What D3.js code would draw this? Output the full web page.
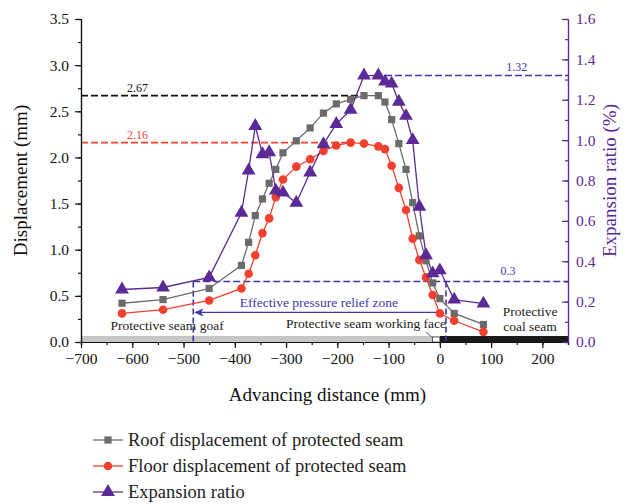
<!DOCTYPE html>
<html>
<head>
<meta charset="utf-8">
<script src="https://cdn.jsdelivr.net/npm/d3@7"></script>
<style>
  body { margin: 0; background: #fff; }
  svg text { font-family: "Liberation Serif", "DejaVu Serif", serif; }
</style>
</head>
<body>
<div class="chart"></div>
<script>
// advancing distance (mm) of each measuring point
let distance = [-620, -540, -450, -387, -373, -360, -346, -333, -320, -306, -280, -253, -227, -202,
                -174, -148, -120, -107, -94, -80, -66, -53, -40, -27, -14, 0, 28, 85];

// displacement (mm)
let roof = [0.42, 0.46, 0.58, 0.83, 1.08, 1.37, 1.55, 1.72, 1.87, 2.05, 2.18, 2.32, 2.48, 2.58,
            2.63, 2.67, 2.67, 2.60, 2.41, 2.15, 1.87, 1.51, 1.15, 0.88, 0.64, 0.47, 0.31, 0.19];
let floor = [0.31, 0.35, 0.45, 0.58, 0.74, 0.94, 1.18, 1.34, 1.57, 1.76, 1.90, 1.98, 2.07, 2.13,
             2.16, 2.15, 2.12, 2.09, 1.91, 1.67, 1.43, 1.12, 0.89, 0.70, 0.51, 0.31, 0.23, 0.11];

// expansion ratio (%)
let expansion = [0.26, 0.27, 0.32, 0.64, 0.85, 1.07, 0.93, 0.94, 0.75, 0.74, 0.69, 0.84, 0.98, 1.08,
                 1.15, 1.32, 1.32, 1.29, 1.28, 1.19, 1.12, 1.00, 0.67, 0.43, 0.34, 0.355, 0.21, 0.19];

// axis ticks
let xTicks = [-700, -600, -500, -400, -300, -200, -100, 0, 100, 200];
let yLeftTicks = [0, 0.5, 1.0, 1.5, 2.0, 2.5, 3.0, 3.5];
let yRightTicks = [0, 0.2, 0.4, 0.6, 0.8, 1.0, 1.2, 1.4, 1.6];

// reference values
let roofMax = 2.67, floorMax = 2.16, expansionMax = 1.32, expansionLimit = 0.3;
let zoneStart = -481, zoneEnd = 12;

let width = 627, height = 504;
let margin = {left: 81, right: 59, top: 19, bottom: 162};

let grey = "#6b6b6b", red = "#f2402f", purple = "#5b2a96", blue = "#3f39a6";

let svg = d3.select(".chart")
    .append("svg")
    .attr("width", width)
    .attr("height", height);

let xScale = d3.scaleLinear()
    .domain([-700, 250])
    .range([margin.left, width - margin.right]);

let yLeft = d3.scaleLinear()
    .domain([0, 3.5])
    .range([height - margin.bottom, margin.top]);

let yRight = d3.scaleLinear()
    .domain([0, 1.6])
    .range([height - margin.bottom, margin.top]);

let x0 = xScale.range()[0], x1 = xScale.range()[1], yBase = yLeft(0);

// coal seam strip at the bottom
svg.append("rect")
    .attr("x", x0).attr("y", yBase - 6)
    .attr("width", xScale(-3) - x0).attr("height", 6)
    .attr("fill", "#c6c6c6");
svg.append("rect")
    .attr("x", xScale(0)).attr("y", yBase - 6)
    .attr("width", x1 - xScale(0)).attr("height", 6)
    .attr("fill", "#1a1a1a");
svg.append("rect")
    .attr("x", xScale(-14)).attr("y", yBase - 5)
    .attr("width", xScale(0) - xScale(-14)).attr("height", 5)
    .attr("fill", "#fff").attr("stroke", "#1a1a1a").attr("stroke-width", 0.6);

// dashed reference lines
let dashed = (xa, xb, y, color) => {
    svg.append("line")
        .attr("x1", xScale(xa)).attr("x2", xScale(xb))
        .attr("y1", y).attr("y2", y)
        .attr("stroke", color).attr("stroke-width", 1.6)
        .attr("stroke-dasharray", "7,3");
};
dashed(-700, -150, yLeft(roofMax), "#111");
dashed(-700, -174, yLeft(floorMax), red);
dashed(-107, 250, yRight(expansionMax), blue);
dashed(zoneStart, 250, yRight(expansionLimit), blue);

[zoneStart, zoneEnd].forEach(v => {
    svg.append("line")
        .attr("x1", xScale(v)).attr("x2", xScale(v))
        .attr("y1", yRight(expansionLimit)).attr("y2", yBase)
        .attr("stroke", blue).attr("stroke-width", 1.6)
        .attr("stroke-dasharray", "6,3");
});

let label = (x, y, txt, color, size) => {
    svg.append("text")
        .attr("x", x).attr("y", y)
        .attr("fill", color)
        .attr("font-size", size || 12)
        .attr("text-anchor", "middle")
        .text(txt);
};
label(xScale(-590), yLeft(roofMax) - 4, "2.67", "#111");
label(xScale(-590), yLeft(floorMax) - 4, "2.16", red);
label(xScale(150), yRight(expansionMax) - 5, "1.32", blue);
label(xScale(133), yRight(expansionLimit) - 6, "0.3", blue);

// effective pressure relief zone arrow
let arrowY = yLeft(0.32);
svg.append("line")
    .attr("x1", xScale(0)).attr("x2", xScale(zoneStart) + 2)
    .attr("y1", arrowY).attr("y2", arrowY)
    .attr("stroke", blue).attr("stroke-width", 1.2);
svg.append("path")
    .attr("d", "M" + (xScale(zoneStart) + 1) + "," + arrowY + "l9,-4l-2,4l2,4z")
    .attr("fill", blue);
label(xScale(-236), arrowY - 5, "Effective pressure relief zone", blue, 13.5);

label(xScale(-532), yLeft(0.13), "Protective seam goaf", "#222", 13.5);
label(xScale(-144), yLeft(0.155), "Protective seam working face", "#222", 13.5);
label(xScale(176), yLeft(0.28), "Protective", "#222", 13.5);
label(xScale(176), yLeft(0.115), "coal seam", "#222", 13.5);
svg.append("path")
    .attr("d", "M" + xScale(-27) + "," + (yBase - 10) + "L" + (xScale(-14) - 1) + "," + (yBase - 5))
    .attr("stroke", "#222").attr("stroke-width", 0.8).attr("fill", "none");

// series
let dispLine = d3.line()
    .x((d, i) => xScale(distance[i]))
    .y(d => yLeft(d));
let expLine = d3.line()
    .x((d, i) => xScale(distance[i]))
    .y(d => yRight(d));

svg.append("path").datum(roof)
    .attr("d", dispLine).attr("fill", "none")
    .attr("stroke", grey).attr("stroke-width", 1.3);
svg.append("path").datum(floor)
    .attr("d", dispLine).attr("fill", "none")
    .attr("stroke", red).attr("stroke-width", 1.3);
svg.append("path").datum(expansion)
    .attr("d", expLine).attr("fill", "none")
    .attr("stroke", purple).attr("stroke-width", 1.3);

let square = d3.symbol().type(d3.symbolSquare).size(52);
let circle = d3.symbol().type(d3.symbolCircle).size(58);
let triangle = d3.symbol().type(d3.symbolTriangle).size(82);

svg.selectAll(".roof-pt").data(roof).enter()
    .append("path").attr("class", "roof-pt")
    .attr("d", square)
    .attr("transform", (d, i) => "translate(" + xScale(distance[i]) + "," + yLeft(d) + ")")
    .attr("fill", grey);
svg.selectAll(".floor-pt").data(floor).enter()
    .append("path").attr("class", "floor-pt")
    .attr("d", circle)
    .attr("transform", (d, i) => "translate(" + xScale(distance[i]) + "," + yLeft(d) + ")")
    .attr("fill", red);
svg.selectAll(".exp-pt").data(expansion).enter()
    .append("path").attr("class", "exp-pt")
    .attr("d", triangle)
    .attr("transform", (d, i) => "translate(" + xScale(distance[i]) + "," + yRight(d) + ")")
    .attr("fill", purple);

// axes
let styleAxis = (g, color) => {
    g.selectAll("path, line").attr("stroke", color).attr("stroke-width", 1.2);
    g.selectAll("text").attr("fill", color)
        .attr("font-family", "Liberation Serif, serif").attr("font-size", 15.5);
};

svg.append("g")
    .attr("transform", "translate(0," + yBase + ")")
    .call(d3.axisBottom(xScale).tickValues(d3.range(-700, 251, 50)).tickSize(3).tickFormat(""))
    .call(g => styleAxis(g, "#111"));
svg.append("g")
    .attr("transform", "translate(0," + yBase + ")")
    .call(d3.axisBottom(xScale).tickValues(xTicks).tickSize(6).tickSizeOuter(0).tickPadding(5)
        .tickFormat(d => d < 0 ? "\u2212" + Math.abs(d) : d))
    .call(g => styleAxis(g, "#111"));

svg.append("g")
    .attr("transform", "translate(" + x0 + ",0)")
    .call(d3.axisLeft(yLeft).tickValues(d3.range(0, 3.51, 0.25)).tickSize(3).tickFormat(""))
    .call(g => styleAxis(g, "#111"));
svg.append("g")
    .attr("transform", "translate(" + x0 + ",0)")
    .call(d3.axisLeft(yLeft).tickValues(yLeftTicks).tickSize(6).tickSizeOuter(0).tickPadding(6)
        .tickFormat(d3.format(".1f")))
    .call(g => styleAxis(g, "#111"));

svg.append("g")
    .attr("transform", "translate(" + x1 + ",0)")
    .call(d3.axisRight(yRight).tickValues(d3.range(0, 1.61, 0.1)).tickSize(-3).tickFormat(""))
    .call(g => styleAxis(g, purple));
svg.append("g")
    .attr("transform", "translate(" + x1 + ",0)")
    .call(d3.axisRight(yRight).tickValues(yRightTicks).tickSize(-6).tickSizeOuter(0).tickPadding(8)
        .tickFormat(d3.format(".1f")))
    .call(g => styleAxis(g, purple));

// axis titles
svg.append("text")
    .attr("x", (x0 + x1) / 2 + 3).attr("y", yBase + 59)
    .attr("text-anchor", "middle").attr("font-size", 19).attr("fill", "#111")
    .text("Advancing distance (mm)");
svg.append("text")
    .attr("transform", "translate(27," + yLeft(1.75) + ") rotate(-90)")
    .attr("text-anchor", "middle").attr("font-size", 19).attr("fill", "#111")
    .text("Displacement (mm)");
svg.append("text")
    .attr("transform", "translate(616," + yLeft(1.75) + ") rotate(-90)")
    .attr("text-anchor", "middle").attr("font-size", 19).attr("fill", purple)
    .text("Expansion ratio (%)");

// legend
let legendItems = [
    {name: "Roof displacement of protected seam", color: grey, symbol: square},
    {name: "Floor displacement of protected seam", color: red, symbol: circle},
    {name: "Expansion ratio", color: purple, symbol: triangle}
];
let legend = svg.selectAll(".legend").data(legendItems).enter()
    .append("g").attr("class", "legend")
    .attr("transform", (d, i) => "translate(93," + (440 + i * 26) + ")");
legend.append("line")
    .attr("x1", 0).attr("x2", 30)
    .attr("stroke", d => d.color).attr("stroke-width", 1.3);
legend.append("path")
    .attr("d", d => d.symbol())
    .attr("transform", "translate(15,0)")
    .attr("fill", d => d.color);
legend.append("text")
    .attr("x", 35).attr("y", 6)
    .attr("font-size", 18.5).attr("fill", "#222")
    .text(d => d.name);
</script>
</body>
</html>
